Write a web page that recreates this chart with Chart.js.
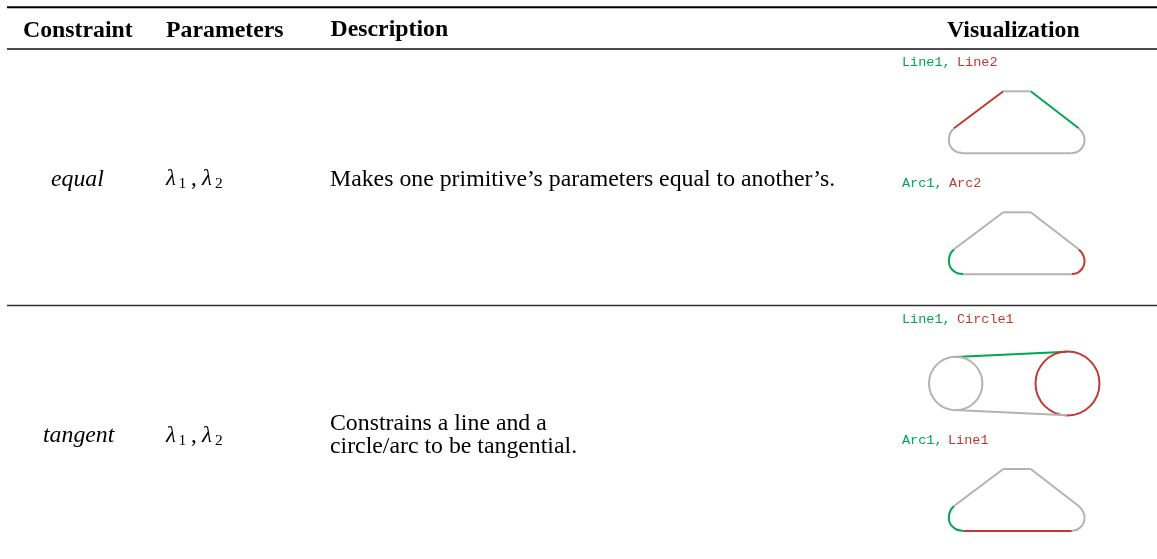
<!DOCTYPE html>
<html><head><meta charset="utf-8">
<style>html,body{margin:0;padding:0;background:#fff}canvas{display:block}</style>
<script src="https://cdn.jsdelivr.net/npm/chart.js@4"></script></head>
<body><canvas id="c" width="1157" height="559"></canvas>
<script>
const GREEN='#00a651', RED='#bd3b32', GREY='#b3b3b3';
// table rules
const ruleTop=[[7,7.3],[1157,7.3]], ruleHead=[[7,49],[1157,49]], ruleMid=[[7,305.5],[1157,305.5]];
// rounded-trapezoid sketch pieces, read in first sketch's position
const segTop=[[1003.3,91.3],[1030.7,91.3]];
const segRight=[[1030.7,91.3],[1078.7,128.3]];
const segLeft=[[1003.3,91.3],[954,128.3]];
const segBottom=[[963.3,153.3],[1071.7,153.3]];
const arcRight=[[1078.7,128.3],[1082.3,132.5],[1084.4,138],[1084,144],[1081.5,148.5],[1077.5,151.8],[1071.7,153.3]];
const arcLeft=[[954,128.3],[950.6,132.5],[949,138],[949.4,144],[952,148.5],[956.5,151.8],[963.3,153.3]];
const sketchOffsets=[0,121,377.7];
// pulley sketch
const pulleyTop=[[955,357],[1066.7,351.7]], pulleyBottom=[[955,410],[1066.7,415.3]];
const circleSmall=[955.7,383.5,26.7], circleLarge=[1067.5,383.5,32];
// texts: [string, x, baseline]
const SERIF='"Liberation Serif"', MONO='"Liberation Mono"';
const headers=[['Constraint',23,37],['Parameters',166,37],['Description',330.5,36],['Visualization',947,37]];
const names=[['equal',51,186],['tangent',43,442]];
const descriptions=[['Makes one primitive\u2019s parameters equal to another\u2019s.',330,186],['Constrains a line and a',330,429.5],['circle/arc to be tangential.',330,453]];
const paramRows=[185,442];
const codeGreen=[['Line1,',902,66],['Arc1,',902,187],['Line1,',902,323],['Arc1,',902,444]];
const codeRed=[['Line2',957,66],['Arc2',949,187],['Circle1',957,323],['Line1',948,444]];

const pts=(a,dy=0)=>a.map(p=>({x:p[0],y:p[1]+dy}));
const line=(a,color,w=2,dy=0,tension=0)=>({type:'scatter',showLine:true,data:pts(a,dy),borderColor:color,borderWidth:w,pointRadius:0,fill:false,tension,borderCapStyle:'butt',borderJoinStyle:'round'});
const ring=(c,color)=>({type:'bubble',data:[{x:c[0],y:c[1],r:c[2]}],borderColor:color,backgroundColor:'rgba(0,0,0,0)',borderWidth:2});
const sketch=(dy,colors)=>[
  line(segTop,colors.top||GREY,2,dy),line(segRight,colors.right||GREY,2,dy),line(segLeft,colors.left||GREY,2,dy),
  line(segBottom,colors.bottom||GREY,2,dy),line(arcRight,colors.arcR||GREY,2,dy,0.4),line(arcLeft,colors.arcL||GREY,2,dy,0.4)];
const datasets=[
  line(ruleTop,'#000',2),line(ruleHead,'#111',1.3),line(ruleMid,'#333',1.5),
  ...sketch(sketchOffsets[0],{right:GREEN,left:RED}),
  ...sketch(sketchOffsets[1],{arcL:GREEN,arcR:RED}),
  ...sketch(sketchOffsets[2],{arcL:GREEN,bottom:RED}),
  line(pulleyBottom,GREY),ring(circleSmall,GREY),ring(circleLarge,RED),line(pulleyTop,GREEN)
];
const textPlugin={id:'tableText',afterDraw(ch){
  const g=ch.ctx,X=ch.scales.x,Y=ch.scales.y;
  g.save();g.textAlign='left';g.textBaseline='alphabetic';
  const put=(s,x,y,font,col)=>{g.font=font;g.fillStyle=col;g.fillText(s,X.getPixelForValue(x),Y.getPixelForValue(y));};
  headers.forEach(t=>put(t[0],t[1],t[2],'bold 23.8px '+SERIF,'#000'));
  names.forEach(t=>put(t[0],t[1],t[2],'italic 23.8px '+SERIF,'#000'));
  descriptions.forEach(t=>put(t[0],t[1],t[2],'23.8px '+SERIF,'#000'));
  paramRows.forEach(y=>{
    put('\u03bb',166,y,'italic 23px '+SERIF,'#000');put('1',178.5,y+3,'15.5px '+SERIF,'#000');put(',',191,y,'23px '+SERIF,'#000');
    put('\u03bb',202,y,'italic 23px '+SERIF,'#000');put('2',215,y+3,'15.5px '+SERIF,'#000');
  });
  codeGreen.forEach(t=>put(t[0],t[1],t[2],'13.5px '+MONO,GREEN));
  codeRed.forEach(t=>put(t[0],t[1],t[2],'13.5px '+MONO,RED));
  g.restore();
}};
new Chart(document.getElementById('c'),{
  type:'scatter',data:{datasets},plugins:[textPlugin],
  options:{responsive:false,animation:false,events:[],layout:{padding:0,autoPadding:false},
    plugins:{legend:{display:false},tooltip:{enabled:false},title:{display:false}},
    scales:{x:{type:'linear',min:0,max:1157,display:false},y:{type:'linear',min:0,max:559,reverse:true,display:false}}}
});
</script></body></html>
